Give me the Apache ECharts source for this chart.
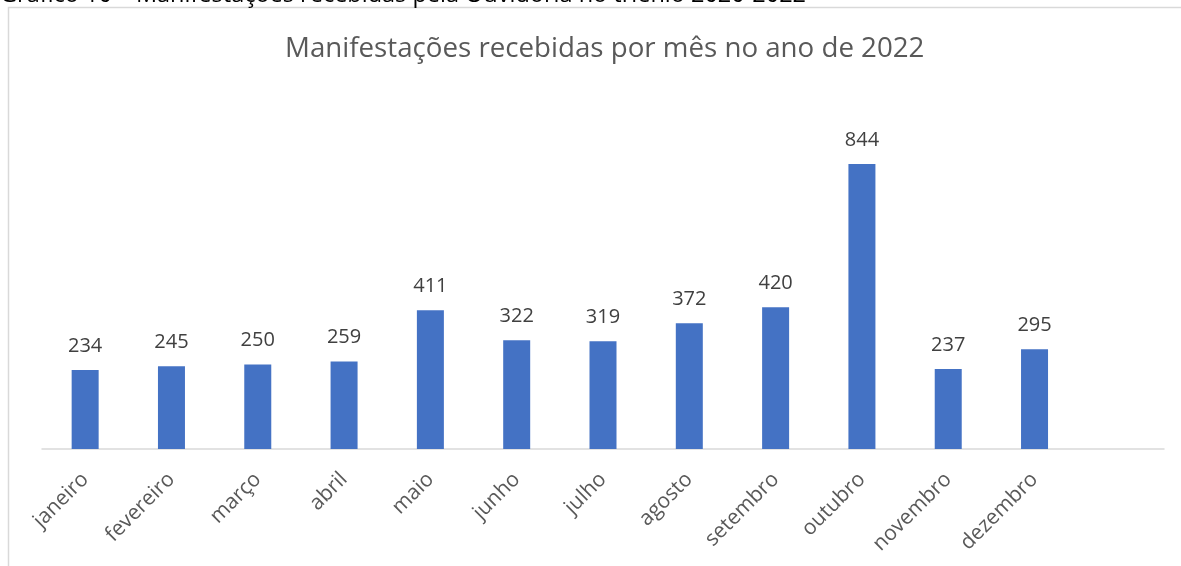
<!DOCTYPE html>
<html lang="pt">
<head>
<meta charset="UTF-8">
<title>Manifestações recebidas por mês</title>
<script src="https://cdn.jsdelivr.net/npm/echarts@6/dist/echarts.min.js"></script>
<style>
    * { margin: 0; padding: 0; }
    body { background: #fff; }
    #chart { width: 1181px; height: 566px; }
</style>
</head>
<body>
<div id="chart"></div>
<script>
    // dados do gráfico
    var meses = ['janeiro', 'fevereiro', 'março', 'abril', 'maio', 'junho',
                 'julho', 'agosto', 'setembro', 'outubro', 'novembro', 'dezembro', ''];
    var manifestacoes = [234, 245, 250, 259, 411, 322, 319, 372, 420, 844, 237, 295, null];
    var titulo = 'Manifestações recebidas por mês no ano de 2022';
    var legendaFigura = 'Gráfico 10 – Manifestações recebidas pela Ouvidoria no triênio 2020-2022';

    var fonte = '"Open Sans", "Noto Sans", sans-serif';
    var chart = echarts.init(document.getElementById('chart'));

    var option = {
        animation: false,
        backgroundColor: '#fff',
        textStyle: { fontFamily: fonte },
        title: {
            text: titulo,
            left: 280,
            top: 30,
            textStyle: { color: '#595959', fontSize: 27.7, fontWeight: 'normal', fontFamily: fonte }
        },
        graphic: [
            {
                type: 'rect',
                shape: { x: 8.5, y: 7.5, width: 1300, height: 700 },
                style: { fill: 'none', stroke: '#d9d9d9', lineWidth: 1.5 },
                silent: true
            },
            {
                type: 'text',
                left: 0,
                top: -17,
                style: { text: legendaFigura, fill: '#000', fontSize: 23.5, fontFamily: fonte }
            }
        ],
        grid: { left: 42, right: 17, top: 145, bottom: 117 },
        xAxis: {
            type: 'category',
            data: meses,
            axisLine: { lineStyle: { color: '#d9d9d9', width: 1.5 } },
            axisTick: { show: false },
            axisLabel: {
                interval: 0,
                rotate: 45,
                margin: 27,
                color: '#595959',
                fontSize: 21,
                fontFamily: fonte
            }
        },
        yAxis: {
            type: 'value',
            min: 0,
            max: 900,
            show: false,
            splitLine: { show: false }
        },
        series: [{
            type: 'bar',
            data: manifestacoes,
            barWidth: 27,
            itemStyle: { color: '#4472c4' },
            label: {
                show: true,
                position: 'top',
                distance: 14,
                color: '#404040',
                fontSize: 20,
                fontFamily: fonte
            }
        }]
    };
    chart.setOption(option);
</script>
</body>
</html>
